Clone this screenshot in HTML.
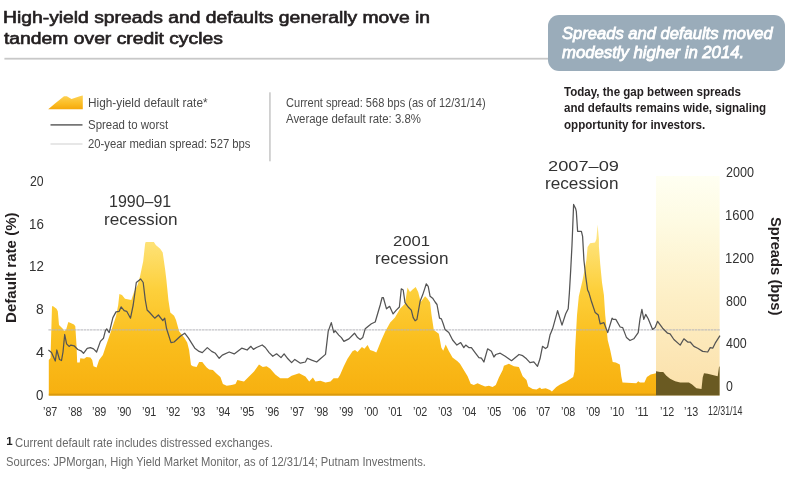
<!DOCTYPE html>
<html><head><meta charset="utf-8">
<style>
html,body{margin:0;padding:0;background:#fff;}
body{width:800px;height:479px;position:relative;overflow:hidden;font-family:"Liberation Sans",sans-serif;}
.t{position:absolute;white-space:nowrap;line-height:1;}
svg{position:absolute;left:0;top:0;}
#w{position:absolute;left:0;top:0;width:800px;height:479px;filter:blur(0.45px);}
</style></head><body><div id="w">
<svg width="800" height="479" viewBox="0 0 800 479">
<defs>
<linearGradient id="yg" x1="0" y1="224" x2="0" y2="395" gradientUnits="userSpaceOnUse">
<stop offset="0" stop-color="#fee98e"/>
<stop offset="0.38" stop-color="#fdd03c"/>
<stop offset="0.7" stop-color="#fabd1c"/>
<stop offset="1" stop-color="#f7b010"/>
</linearGradient>
<linearGradient id="sg" x1="0" y1="176" x2="0" y2="395" gradientUnits="userSpaceOnUse">
<stop offset="0" stop-color="#fffff2"/>
<stop offset="0.2" stop-color="#fefbe3"/>
<stop offset="0.55" stop-color="#fdefc6"/>
<stop offset="1" stop-color="#fbe0aa"/>
</linearGradient>
<linearGradient id="lg" x1="0" y1="95" x2="0" y2="109" gradientUnits="userSpaceOnUse">
<stop offset="0" stop-color="#fdd45a"/>
<stop offset="0.6" stop-color="#fbbd25"/>
<stop offset="1" stop-color="#f5a90c"/>
</linearGradient>
</defs>
<rect x="4.4" y="57.8" width="544" height="1.8" fill="#c8c8c8"/>
<polygon points="48.2,109.2 55,103.6 64,96.3 66.8,96.3 71.5,99 80.5,96 82.8,95.5 82.8,109.2" fill="url(#lg)"/>
<rect x="50.5" y="124.2" width="32" height="1.4" fill="#555"/>
<rect x="50.5" y="143.5" width="32" height="1" fill="#d0d0d0"/>
<rect x="269.3" y="92.3" width="1.3" height="69" fill="#bdbdbd"/>
<rect x="656" y="176" width="63.6" height="219.5" fill="url(#sg)"/>
<polygon points="48.8,395.5 48.8,360 50.5,358 52,306.5 52.8,306 56.5,308.8 57.8,311.3 59,325 62.8,328.8 64,331 66,330 67.8,323.8 68.4,322 74,324.4 75.3,326.3 76.5,345 77.2,362.6 79.7,362.6 80.3,358.2 84.1,358.8 86.6,357 90.4,357.5 92.2,360 93.5,366.3 96.6,367.6 99.1,360 102.9,355 105.4,347.5 109.2,336.4 112.3,327.6 116,316.3 118.2,305 119.4,294 122,295 125,298.8 131.3,300 134,292 137.6,285 140.1,276 143.2,261.3 145.1,243.8 145.7,241.9 153.9,241.9 155.8,245 160.2,248.8 162.7,252.6 165.2,270 166.4,280 168.4,300 170.3,312.5 174.1,315.7 176,320 179.1,331.3 184.1,337.6 187.2,342.6 189.1,350 191,365 192.9,366.3 196.6,367 199.1,361.9 202.3,361.9 204.2,364.4 206.7,367.6 209.2,369.4 212.9,370 216.7,373.8 220.4,377 222.9,383.9 226.7,385.7 231.7,385.1 235.5,383.9 237.4,380.1 240.5,380.7 244,381.4 249,376.4 254,371.4 259,364.5 262.8,367 266.6,366.3 270.3,368.8 275.3,374.5 280.3,378.2 287.9,378.2 291.6,375.7 299.1,373.2 305.4,376.4 309.2,381.4 312.9,377.6 315.4,381.4 320.4,380.8 325.5,382.6 330.5,381.4 333.6,378.2 338,378.2 340,375.1 343.8,366.3 347.5,358.8 352.5,351.3 355,350 357.5,351.9 361.9,346.9 364.4,348.8 367.6,345 370.1,350 373.8,351.3 376.3,352.5 377.6,349.4 381.4,340 385.2,331.4 390.2,322.6 395,317.6 400,308.8 405,303.8 407.5,287.5 410,291.9 412.6,289.4 415.7,286.9 418.2,291.9 420.7,302 425.1,296.3 427.6,298.8 430.1,302.6 431.4,313.9 433.8,330 438.8,333.8 441.3,347.6 443.2,350.7 445.7,344.4 448.8,351 452.5,357.5 457.5,361.3 460,363.8 463.8,370.1 467.6,376.3 470.7,383.8 473.8,385.1 477.6,383.2 481.4,385.1 485.1,386.4 488.9,385.7 492.6,387 495.8,385.1 498.9,377.6 502.7,370.1 503.9,365.7 508.9,363.8 513.9,366.3 518.9,367 522.7,376.3 526.5,380.1 528.3,386.4 532.7,388.9 536.5,389.5 540,387.6 541.3,388.9 545.7,388.2 550,390.1 551.9,391.4 556.3,387 560.1,384.5 566.3,381.4 573.2,377 574.5,371.3 575.1,350 577,315.1 578.8,296.4 582.6,280.1 586.4,260 587.6,247 590.1,243.2 595.1,242.6 596.4,238.9 597.6,224.4 598.9,238.9 598.9,246.3 600.2,263.8 602,282.6 603.9,295.1 605.2,315.1 607.7,340 610.2,350 612.7,361.9 615.8,362.6 619.8,364.5 621.3,376.3 622.5,382.6 636.3,383.2 638.2,381.3 640,382.6 644.4,382.6 646.9,377 650.7,374.4 656,373.2 656,395.5" fill="url(#yg)"/>
<rect x="48.8" y="393.7" width="607.2" height="1.9" fill="#d6980e" opacity="0.9"/>
<polygon points="656,395.5 656,371.3 660.1,371.9 663.2,371.9 666.4,375.7 670.1,378.8 675.1,381.3 680.2,382.6 688.9,382.6 692.1,384.5 696.4,388.2 701.5,388.9 702.7,377.6 704,373.2 707.7,373.8 712.7,375.1 717.7,376.3 719,366.9 719.6,366.3 719.6,395.5" fill="#6a5a22"/>
<line x1="48.4" y1="329.9" x2="719.8" y2="329.9" stroke="#b4b4ba" stroke-width="1.4" stroke-dasharray="2.6,0.6" opacity="0.8"/>
<polyline points="48.4,350.1 51.5,352.5 55.3,361 56.8,350 59.5,359.5 61.5,360.5 63,352 64.7,334.5 66.6,343.9 69.1,346.4 70.9,345.1 74.1,345.8 77.8,349.5 81,350.8 83.5,353.3 87.2,348.3 90.4,347.6 93.5,348.9 96.6,352 100.4,341.4 103.5,338.2 105.4,330.7 106.7,328.8 109.2,332.6 112.9,317.6 116,311.9 119.2,311.3 121.1,306.9 124.2,310.7 126.7,311.3 130.5,318.2 133.2,305 136.3,282.5 140.7,279 143.2,282.5 145.3,300 147.1,310 149.6,312.5 154.7,318.2 158.4,315 162.8,320.7 164.7,318.2 166.6,328.8 171,342.6 174.1,342 180.3,336.3 184.7,333.2 188.5,338.2 191.6,343.2 194.8,348.2 199.1,351.4 202.3,352.6 207.3,347.6 211.7,351.4 215.4,353.3 219.2,358.3 222.3,355.1 229.2,352 234.2,353.9 241.7,348.2 244,348.8 247.1,350 250.9,346.3 253.4,349.4 256.5,347.5 262.2,345 265.3,347.5 269.1,352.6 272.8,356.3 276.6,353.8 281,357.6 284.1,353.8 287.9,358.8 291.6,362.6 294.8,359.4 300.4,363.2 305.4,362 307.3,358.2 311.7,360.1 316.7,362 320.4,358.8 325.5,354.4 328.2,331.4 331.3,322.6 333.8,332.6 335.1,330.7 338.8,335.1 341.4,337.6 343.9,341.4 348.9,338.9 354.5,333.2 357.6,337.6 360.2,339.5 362.7,337.6 365.2,328.8 368.9,325.7 371.4,323.8 375.2,322 380.2,305 382.1,297.5 383.3,297.5 386.5,308.8 389.6,306.3 393.1,313.9 396.3,310.1 399.4,307 401.3,288.8 403.2,290 405,302.6 408.2,307 411.3,310.1 413.2,317.6 415.1,320.8 416.9,319.5 420.1,301.3 422.6,295.1 424.5,289.4 426.3,283.8 428.2,286.3 430.1,296.3 432.6,298.2 435.1,302 437,304.5 439.5,318.2 441.4,318.9 443.2,323.8 445,329.4 448.8,332.5 452.6,340 456.9,345.1 460.7,342.6 463.8,347.6 465.7,345.1 468.8,347.6 471.4,347.6 475.1,352.6 478.9,357.6 481.4,358.2 483.9,362 487.6,348.8 491.4,351.3 493.9,357 495.8,354.5 500.2,353.2 505.2,356.3 511.5,360.7 519,354.5 522.7,355.7 526.5,358.8 530,362.6 533.8,361.9 537.5,366.3 540,358.8 542.5,346.3 545.5,348.5 547.5,347 550,335.1 552.6,328.8 557.6,310.7 562,325.1 565.7,313.8 568.2,308.8 569.4,292.6 570.7,270.1 572,245 572.6,230.1 573.6,204.4 575.7,208.8 576.3,211.3 577.6,231.3 581.4,231.3 582.6,236.4 583.9,260 585.7,276.3 587.6,290 588.9,292.6 591.4,301.3 595.2,312.6 598.3,315.1 600.2,323.8 603.9,322.6 607.7,332.6 612.1,318.2 613.3,319.4 615.8,319.4 620.2,327 622.7,327.6 626.5,337.6 630,340.5 633.8,338.8 638.2,332.6 640,318.8 641.9,309.4 643.8,319.4 645.7,314.4 648.2,318.8 652.6,329.4 655.1,327.6 657.6,321.3 662.6,328.2 667.6,333.2 670.1,333.8 673.9,339.5 680.2,345.1 683.9,338.8 687.7,342 690.2,342 693.9,346.4 697.7,348.2 702.7,351.4 707.7,352 710.2,347.6 712.7,348.2 715.2,343.2 720,335.7" fill="none" stroke="#545454" stroke-width="1.25" stroke-linejoin="round"/>
</svg>
<div style="position:absolute;left:547.5px;top:15.4px;width:237.3px;height:56.1px;border-radius:11px;background:#9aacba;"></div>
<div class="t" style="left:6.2px;top:435.5px;font-size:11.5px;color:#222;font-weight:bold;">1</div>
<div class="t" style="left:3.16px;top:9.84px;font-size:15.6px;color:#231f20;-webkit-text-stroke:0.6px currentColor;transform:scaleX(1.2379);transform-origin:0 0;">High-yield spreads and defaults generally move in</div>
<div class="t" style="left:4.40px;top:30.54px;font-size:15.6px;color:#231f20;-webkit-text-stroke:0.6px currentColor;transform:scaleX(1.2378);transform-origin:0 0;">tandem over credit cycles</div>
<div class="t" style="left:562.00px;top:24.75px;font-size:16.3px;color:#ffffff;-webkit-text-stroke:0.8px currentColor;font-style:italic;transform:scaleX(1.0167);transform-origin:0 0;">Spreads and defaults moved</div>
<div class="t" style="left:562.00px;top:43.55px;font-size:16.3px;color:#ffffff;-webkit-text-stroke:0.8px currentColor;font-style:italic;transform:scaleX(1.0269);transform-origin:0 0;">modestly higher in 2014.</div>
<div class="t" style="left:563.80px;top:85.60px;font-size:12px;color:#231f20;font-weight:bold;transform:scaleX(0.9634);transform-origin:0 0;">Today, the gap between spreads</div>
<div class="t" style="left:563.80px;top:102.40px;font-size:12px;color:#231f20;font-weight:bold;transform:scaleX(0.9653);transform-origin:0 0;">and defaults remains wide, signaling</div>
<div class="t" style="left:563.80px;top:118.60px;font-size:12px;color:#231f20;font-weight:bold;transform:scaleX(0.9673);transform-origin:0 0;">opportunity for investors.</div>
<div class="t" style="left:88.05px;top:97.17px;font-size:12.5px;color:#4a4a4a;transform:scaleX(0.9455);transform-origin:0 0;">High-yield default rate*</div>
<div class="t" style="left:88.10px;top:118.57px;font-size:12.5px;color:#4a4a4a;transform:scaleX(0.9152);transform-origin:0 0;">Spread to worst</div>
<div class="t" style="left:88.10px;top:138.38px;font-size:12.5px;color:#4a4a4a;transform:scaleX(0.9030);transform-origin:0 0;">20-year median spread: 527 bps</div>
<div class="t" style="left:286.00px;top:97.14px;font-size:12.3px;color:#4a4a4a;transform:scaleX(0.8988);transform-origin:0 0;">Current spread: 568 bps (as of 12/31/14)</div>
<div class="t" style="left:285.60px;top:113.45px;font-size:12.3px;color:#4a4a4a;transform:scaleX(0.9282);transform-origin:0 0;">Average default rate: 3.8%</div>
<div class="t" style="left:108.99px;top:194.17px;font-size:15.8px;color:#333333;transform:scaleX(1.0113);transform-origin:0 0;">1990–91</div>
<div class="t" style="left:103.99px;top:211.25px;font-size:17px;color:#333333;transform:scaleX(1.0112);transform-origin:0 0;">recession</div>
<div class="t" style="left:393.20px;top:233.12px;font-size:15.5px;color:#333333;transform:scaleX(1.0720);transform-origin:0 0;">2001</div>
<div class="t" style="left:374.69px;top:250.05px;font-size:17px;color:#333333;transform:scaleX(1.0098);transform-origin:0 0;">recession</div>
<div class="t" style="left:547.50px;top:158.42px;font-size:15.5px;color:#333333;transform:scaleX(1.1754);transform-origin:0 0;">2007–09</div>
<div class="t" style="left:545.29px;top:175.35px;font-size:17px;color:#333333;transform:scaleX(1.0098);transform-origin:0 0;">recession</div>
<div class="t" style="left:14.80px;top:436.21px;font-size:13.4px;color:#6a6a6a;transform:scaleX(0.8448);transform-origin:0 0;">Current default rate includes distressed exchanges.</div>
<div class="t" style="left:5.60px;top:454.81px;font-size:13.4px;color:#6a6a6a;transform:scaleX(0.8344);transform-origin:0 0;">Sources: JPMorgan, High Yield Market Monitor, as of 12/31/14; Putnam Investments.</div>
<div class="t" style="left:2.95px;top:322.81px;font-size:15px;color:#231f20;font-weight:bold;transform:rotate(-90deg) scaleX(1.0053);transform-origin:0 0;">Default rate (%)</div>
<div class="t" style="left:782.77px;top:216.90px;font-size:14.2px;color:#231f20;font-weight:bold;transform:rotate(90deg) scaleX(1.0413);transform-origin:0 0;">Spreads (bps)</div>
<div class="t" style="left:707.50px;top:404.94px;font-size:12.3px;color:#333333;transform:scaleX(0.7183);transform-origin:0 0;">12/31/14</div>
<div class="t" style="left:30.10px;top:173.83px;font-size:14.2px;color:#333333;transform:scaleX(0.8622);transform-origin:0 0;">20</div>
<div class="t" style="left:28.86px;top:216.61px;font-size:14.2px;color:#333333;transform:scaleX(0.9402);transform-origin:0 0;">16</div>
<div class="t" style="left:28.86px;top:259.39px;font-size:14.2px;color:#333333;transform:scaleX(0.9402);transform-origin:0 0;">12</div>
<div class="t" style="left:36.00px;top:302.17px;font-size:14.2px;color:#333333;transform:scaleX(0.9750);transform-origin:0 0;">8</div>
<div class="t" style="left:35.60px;top:344.95px;font-size:14.2px;color:#333333;transform:scaleX(1.0250);transform-origin:0 0;">4</div>
<div class="t" style="left:36.30px;top:387.73px;font-size:14.2px;color:#333333;transform:scaleX(0.9375);transform-origin:0 0;">0</div>
<div class="t" style="left:725.90px;top:165.18px;font-size:14.5px;color:#333333;transform:scaleX(0.8667);transform-origin:0 0;">2000</div>
<div class="t" style="left:725.00px;top:207.98px;font-size:14.5px;color:#333333;transform:scaleX(0.8976);transform-origin:0 0;">1600</div>
<div class="t" style="left:725.00px;top:250.78px;font-size:14.5px;color:#333333;transform:scaleX(0.8976);transform-origin:0 0;">1200</div>
<div class="t" style="left:725.90px;top:293.57px;font-size:14.5px;color:#333333;transform:scaleX(0.8579);transform-origin:0 0;">800</div>
<div class="t" style="left:725.90px;top:336.38px;font-size:14.5px;color:#333333;transform:scaleX(0.8579);transform-origin:0 0;">400</div>
<div class="t" style="left:725.90px;top:379.18px;font-size:14.5px;color:#333333;transform:scaleX(0.8500);transform-origin:0 0;">0</div>
<div class="t" style="left:42.91px;top:405.98px;font-size:12.5px;color:#333333;transform:scaleX(0.8600);transform-origin:0 0;">’87</div>
<div class="t" style="left:67.58px;top:405.98px;font-size:12.5px;color:#333333;transform:scaleX(0.8600);transform-origin:0 0;">’88</div>
<div class="t" style="left:92.25px;top:405.98px;font-size:12.5px;color:#333333;transform:scaleX(0.8600);transform-origin:0 0;">’89</div>
<div class="t" style="left:116.92px;top:405.98px;font-size:12.5px;color:#333333;transform:scaleX(0.8600);transform-origin:0 0;">’90</div>
<div class="t" style="left:141.59px;top:405.98px;font-size:12.5px;color:#333333;transform:scaleX(0.8600);transform-origin:0 0;">’91</div>
<div class="t" style="left:166.26px;top:405.98px;font-size:12.5px;color:#333333;transform:scaleX(0.8600);transform-origin:0 0;">’92</div>
<div class="t" style="left:190.93px;top:405.98px;font-size:12.5px;color:#333333;transform:scaleX(0.8600);transform-origin:0 0;">’93</div>
<div class="t" style="left:215.60px;top:405.98px;font-size:12.5px;color:#333333;transform:scaleX(0.8600);transform-origin:0 0;">’94</div>
<div class="t" style="left:240.27px;top:405.98px;font-size:12.5px;color:#333333;transform:scaleX(0.8600);transform-origin:0 0;">’95</div>
<div class="t" style="left:264.94px;top:405.98px;font-size:12.5px;color:#333333;transform:scaleX(0.8600);transform-origin:0 0;">’96</div>
<div class="t" style="left:289.61px;top:405.98px;font-size:12.5px;color:#333333;transform:scaleX(0.8600);transform-origin:0 0;">’97</div>
<div class="t" style="left:314.28px;top:405.98px;font-size:12.5px;color:#333333;transform:scaleX(0.8600);transform-origin:0 0;">’98</div>
<div class="t" style="left:338.95px;top:405.98px;font-size:12.5px;color:#333333;transform:scaleX(0.8600);transform-origin:0 0;">’99</div>
<div class="t" style="left:363.62px;top:405.98px;font-size:12.5px;color:#333333;transform:scaleX(0.8600);transform-origin:0 0;">’00</div>
<div class="t" style="left:388.29px;top:405.98px;font-size:12.5px;color:#333333;transform:scaleX(0.8600);transform-origin:0 0;">’01</div>
<div class="t" style="left:412.96px;top:405.98px;font-size:12.5px;color:#333333;transform:scaleX(0.8600);transform-origin:0 0;">’02</div>
<div class="t" style="left:437.63px;top:405.98px;font-size:12.5px;color:#333333;transform:scaleX(0.8600);transform-origin:0 0;">’03</div>
<div class="t" style="left:462.30px;top:405.98px;font-size:12.5px;color:#333333;transform:scaleX(0.8600);transform-origin:0 0;">’04</div>
<div class="t" style="left:486.97px;top:405.98px;font-size:12.5px;color:#333333;transform:scaleX(0.8600);transform-origin:0 0;">’05</div>
<div class="t" style="left:511.64px;top:405.98px;font-size:12.5px;color:#333333;transform:scaleX(0.8600);transform-origin:0 0;">’06</div>
<div class="t" style="left:536.31px;top:405.98px;font-size:12.5px;color:#333333;transform:scaleX(0.8600);transform-origin:0 0;">’07</div>
<div class="t" style="left:560.98px;top:405.98px;font-size:12.5px;color:#333333;transform:scaleX(0.8600);transform-origin:0 0;">’08</div>
<div class="t" style="left:585.65px;top:405.98px;font-size:12.5px;color:#333333;transform:scaleX(0.8600);transform-origin:0 0;">’09</div>
<div class="t" style="left:610.32px;top:405.98px;font-size:12.5px;color:#333333;transform:scaleX(0.8600);transform-origin:0 0;">’10</div>
<div class="t" style="left:635.39px;top:405.98px;font-size:12.5px;color:#333333;transform:scaleX(0.8600);transform-origin:0 0;">’11</div>
<div class="t" style="left:659.66px;top:405.98px;font-size:12.5px;color:#333333;transform:scaleX(0.8600);transform-origin:0 0;">’12</div>
<div class="t" style="left:684.33px;top:405.98px;font-size:12.5px;color:#333333;transform:scaleX(0.8600);transform-origin:0 0;">’13</div>
</div></body></html>
